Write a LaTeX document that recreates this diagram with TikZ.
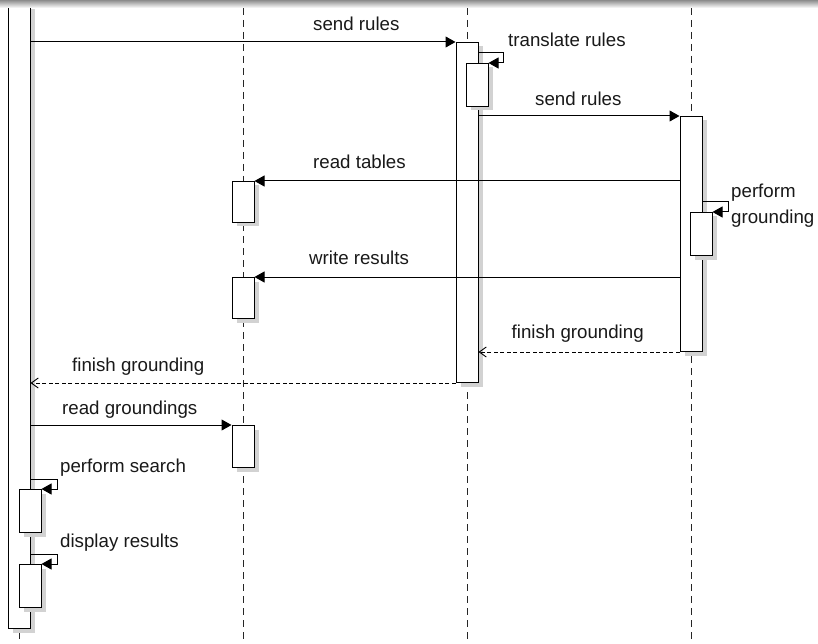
\documentclass[tikz,border=0pt]{standalone}
\usepackage{fontspec}
\setmainfont{Liberation Sans}
\usetikzlibrary{arrows.meta,calc,shadows}
\begin{document}
\begin{tikzpicture}[x=1pt,y=-1pt,
  life/.style={draw=black!85, line width=0.9pt, dash pattern=on 7pt off 5pt},
  actbox/.style={draw=black, fill=white, line width=1pt, minimum width=22pt, inner sep=0pt, anchor=north,
    drop shadow={shadow xshift=4.5pt, shadow yshift=-4pt, fill=gray!35, opacity=1, draw=none}},
  msg/.style={draw=black, line width=1pt, -{Triangle[length=10pt,width=11pt]}},
  ret/.style={draw=black, line width=0.9pt, dash pattern=on 4pt off 2.5pt, -{Straight Barb[length=7pt,width=10pt,line width=0.9pt]}},
  lbl/.style={inner sep=0pt, anchor=base west, font=\fontsize{18.7}{22}\selectfont, text=black!90}]
\useasboundingbox (0,0) rectangle (818,644);
\fill[white] (0,0) rectangle (818,644);
% lifelines
\coordinate (t1) at (19,8);   \coordinate (b1) at (19,644);
\coordinate (t2) at (243,8);  \coordinate (b2) at (243,644);
\coordinate (t3) at (467,8);  \coordinate (b3) at (467,644);
\coordinate (t4) at (691,8);  \coordinate (b4) at (691,644);
\draw[life] (t1) -- (b1);
\draw[life] (t2) -- (b2);
\draw[life] (t3) -- (b3);
\draw[life] (t4) -- (b4);
% activation boxes
\node[actbox, minimum height=623pt] (L) at (19,5) {};
\node[actbox, minimum height=43pt] (Ls1) at (30,489) {};
\node[actbox, minimum height=43pt] (Ls2) at (30,564) {};
\node[actbox, minimum height=41pt] (B1) at (243,181) {};
\node[actbox, minimum height=41pt] (B2) at (243,277) {};
\node[actbox, minimum height=42pt] (B3) at (243,425) {};
\node[actbox, minimum height=340pt] (C) at (467,42) {};
\node[actbox, minimum height=43pt] (Cs) at (477,63) {};
\node[actbox, minimum height=235pt] (D) at (691,116) {};
\node[actbox, minimum height=43pt] (Ds) at (701,212) {};
% top bar
\shade[top color=black!45, bottom color=white] (0,0) rectangle (818,8);
% messages
\draw[msg] (L.east |- C.north) -- (C.north west);
\node[lbl] (m1) at (313,30.5) {send rules};
\draw[msg] ($(C.east |- Cs.north)+(0,-10)$) -- ++(25,0) |- (Cs.north east);
\node[lbl] (m2) at (508,46.5) {translate rules};
\draw[msg] (C.east |- D.north) -- (D.north west);
\node[lbl] (m3) at (535,106) {send rules};
\draw[msg] (D.west |- B1.north) -- (B1.north east);
\node[lbl] (m4) at (313,169) {read tables};
\draw[msg] ($(D.east |- Ds.north)+(0,-10)$) -- ++(26,0) |- (Ds.north east);
\node[lbl] (m5a) at (731,198) {perform};
\node[lbl] (m5b) at (731,223) {grounding};
\draw[msg] (D.west |- B2.north) -- (B2.north east);
\node[lbl] (m6) at (309,264) {write results};
\draw[ret] (D.south west) -- (C.east |- D.south);
\node[lbl] (m7) at (511.5,338.5) {finish grounding};
\draw[ret] (C.south west) -- (L.east |- C.south);
\node[lbl] (m8) at (72,371.5) {finish grounding};
\draw[msg] (L.east |- B3.north) -- (B3.north west);
\node[lbl] (m9) at (62,414) {read groundings};
\draw[msg] ($(L.east |- Ls1.north)+(0,-10)$) -- ++(27,0) |- (Ls1.north east);
\node[lbl] (m10) at (60,472.5) {perform search};
\draw[msg] ($(L.east |- Ls2.north)+(0,-10)$) -- ++(27,0) |- (Ls2.north east);
\node[lbl] (m11) at (60,547) {display results};
\end{tikzpicture}
\end{document}
